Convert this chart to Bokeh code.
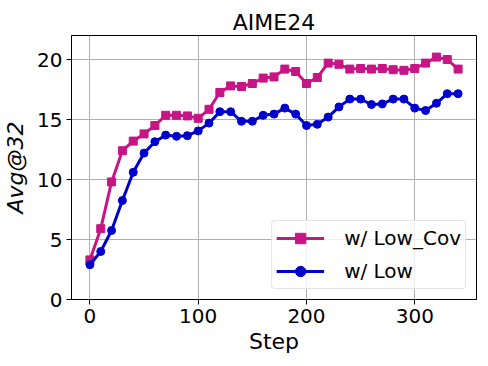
from bokeh.plotting import figure
from bokeh.models import FixedTicker, Range1d, Legend, LegendItem
from bokeh.embed import file_html
from bokeh.resources import INLINE

steps = list(range(0, 350, 10))
low_cov = [3.3, 5.9, 9.8, 12.4, 13.2, 13.8, 14.5, 15.35, 15.35, 15.3, 15.1, 15.85,
           17.25, 17.8, 17.75, 18.0, 18.45, 18.55, 19.2, 19.0, 18.0, 18.5, 19.7, 19.6,
           19.2, 19.25, 19.2, 19.25, 19.15, 19.1, 19.25, 19.7, 20.2, 20.0, 19.2]
low = [2.9, 4.0, 5.75, 8.25, 10.6, 12.2, 13.15, 13.7, 13.6, 13.65, 14.05, 14.7,
       15.65, 15.65, 14.85, 14.85, 15.35, 15.45, 15.95, 15.45, 14.5, 14.6, 15.2, 16.05,
       16.7, 16.7, 16.25, 16.3, 16.7, 16.7, 15.95, 15.75, 16.35, 17.15, 17.15]
x_ticks = [0, 100, 200, 300]
y_ticks = [0, 5, 10, 15, 20]
title = "AIME24"
x_label = "Step"
y_label = "Avg@32"
labels = ["w/ Low_Cov", "w/ Low"]
colors = ["#C71585", "#0000CD"]

FONT = "DejaVu Sans"

p = figure(frame_width=405, frame_height=264, output_backend="svg", toolbar_location=None,
           x_range=Range1d(-17, 357), y_range=Range1d(0, 22),
           min_border_left=64, min_border_right=11, min_border_top=35, min_border_bottom=50)
p.title.text = title
p.title.align = "center"
p.title.text_font = FONT
p.title.text_font_size = "22px"
p.title.text_font_style = "normal"
p.title.text_color = "black"
p.title.standoff = 2
p.title.offset = 0

p.outline_line_color = "black"
p.outline_line_width = 1

for ax in (p.xaxis, p.yaxis):
    ax.major_label_text_font = FONT
    ax.major_label_text_font_size = "20px"
    ax.major_label_text_color = "black"
    ax.axis_label_text_font = FONT
    ax.axis_label_text_font_size = "22px"
    ax.axis_label_text_color = "black"
    ax.minor_tick_line_color = None
    ax.major_tick_out = 5
    ax.major_tick_in = 0
    ax.axis_line_color = "black"
    ax.major_tick_line_color = "black"

p.xaxis.ticker = FixedTicker(ticks=x_ticks)
p.yaxis.ticker = FixedTicker(ticks=y_ticks)
p.xaxis.axis_label = x_label
p.yaxis.axis_label = y_label
p.yaxis.axis_label_text_font_style = "italic"
p.xaxis.axis_label_text_font_style = "normal"
p.xaxis.major_label_standoff = 4
p.yaxis.major_label_standoff = 4
p.xaxis.axis_label_standoff = 3
p.yaxis.axis_label_standoff = 6

p.grid.grid_line_color = "#b0b0b0"
p.grid.grid_line_width = 1

l1 = p.line(steps, low_cov, line_color=colors[0], line_width=3)
s1 = p.scatter(steps, low_cov, marker="square", size=8, color=colors[0])
l2 = p.line(steps, low, line_color=colors[1], line_width=3)
s2 = p.scatter(steps, low, marker="circle", size=8, color=colors[1])

legend = Legend(items=[LegendItem(label=labels[0], renderers=[l1, s1]),
                       LegendItem(label=labels[1], renderers=[l2, s2])],
                location="bottom_right")
legend.label_text_font = FONT
legend.label_text_font_size = "20px"
legend.label_text_color = "black"
legend.glyph_width = 48
legend.glyph_height = 26
legend.label_standoff = 20
legend.spacing = 7
legend.padding = 4
legend.margin = 10
legend.border_line_color = "#cccccc"
legend.border_line_width = 1
legend.background_fill_alpha = 0.8
legend.border_radius = 4
p.add_layout(legend)

open("out.html", "w").write(file_html(p, INLINE))
